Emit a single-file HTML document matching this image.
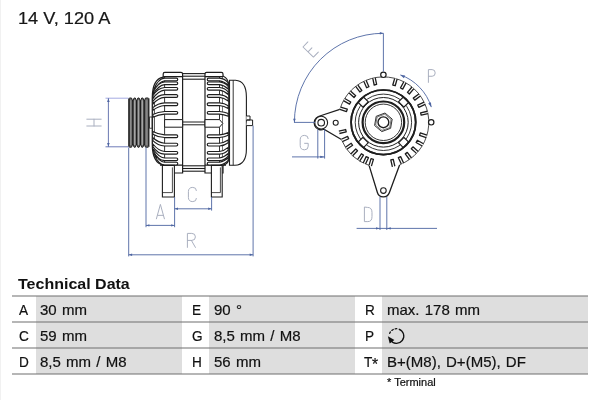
<!DOCTYPE html>
<html><head><meta charset="utf-8"><title>Technical Data</title>
<style>
html,body{margin:0;padding:0;background:#fff;}
body{width:600px;height:400px;position:relative;overflow:hidden;font-family:"Liberation Sans",sans-serif;color:#111;}
.edge{position:absolute;left:0;top:0;width:1px;height:400px;background:#f1f1f1;}
.hd{position:absolute;left:18.2px;top:9.2px;font-size:15.6px;line-height:20px;white-space:nowrap;color:#161616;transform:scaleX(1.165);transform-origin:0 0;-webkit-text-stroke:0.2px #161616;}
.tt{position:absolute;left:18.4px;top:275px;font-size:14.2px;line-height:18px;font-weight:bold;white-space:nowrap;color:#111;transform:scaleX(1.128);transform-origin:0 0;}
#wrap{position:absolute;left:0;top:0;width:600px;height:400px;will-change:transform;}
.g{position:absolute;background:#dedede;}
.ln{position:absolute;left:12px;width:576px;height:2px;background:rgba(110,110,110,0.5);}
.t{position:absolute;font-size:14.3px;line-height:26px;height:26px;white-space:nowrap;color:#111;transform:scaleX(1.05);transform-origin:0 0;margin-top:0.6px;word-spacing:1px;-webkit-text-stroke:0.2px #111;}
.t.lb{transform:scaleX(0.95);font-size:14.3px;}
.fn{position:absolute;left:386.6px;top:377.1px;font-size:10.2px;line-height:12px;white-space:nowrap;color:#111;transform:scaleX(1.08);transform-origin:0 0;-webkit-text-stroke:0.2px #111;}
</style></head><body>
<div class="edge"></div>
<div id="wrap">
<div class="hd">14 V, 120 A</div>
<svg width="600" height="270" viewBox="0 0 600 270" style="position:absolute;left:0;top:0">
<polygon points="128.8,98.6 129.4,98.0 131.5,98.0 132.8,101.2 134.1,98.0 135.3,98.0 136.6,101.2 137.9,98.0 139.1,98.0 140.4,101.2 141.7,98.0 142.9,98.0 144.2,101.2 145.5,98.0 148.3,98.0 148.9,98.6 148.9,146.6 148.3,147.2 145.5,147.2 144.2,144.0 142.9,147.2 141.7,147.2 140.4,144.0 139.1,147.2 137.9,147.2 136.6,144.0 135.3,147.2 134.1,147.2 132.8,144.0 131.5,147.2 129.4,147.2 128.8,146.6" fill="#6c6c6c" stroke="#222" stroke-width="1.0" stroke-linejoin="round"/>
<rect x="129.60" y="100.2" width="1.6" height="44.8" fill="#8c8c8c"/>
<rect x="134.00" y="100.2" width="1.4" height="44.8" fill="#a4a4a4"/>
<rect x="137.80" y="100.2" width="1.4" height="44.8" fill="#a4a4a4"/>
<rect x="141.60" y="100.2" width="1.4" height="44.8" fill="#a4a4a4"/>
<rect x="146.00" y="100.2" width="1.8" height="44.8" fill="#868686"/>
<rect x="132.15" y="100.6" width="1.3" height="44.0" fill="#1c1c1c"/>
<rect x="135.95" y="100.6" width="1.3" height="44.0" fill="#1c1c1c"/>
<rect x="139.75" y="100.6" width="1.3" height="44.0" fill="#1c1c1c"/>
<rect x="143.55" y="100.6" width="1.3" height="44.0" fill="#1c1c1c"/>
<rect x="128.60" y="99.0" width="1.2" height="47.2" fill="#2a2a2a"/>
<rect x="147.90" y="99.0" width="1.2" height="47.2" fill="#2a2a2a"/>
<rect x="149.6" y="117" width="2.6" height="11.2" fill="#fff" stroke="#1e1e1e" stroke-width="0.8"/>
<path d="M163.2 78 L163.2 74 Q163.2 72.4 164.8 72.4 L181 72.4 Q182.6 72.4 182.6 74 L182.6 173 L163.2 173 L163.2 162" fill="#fff" stroke="#1e1e1e" stroke-width="1.2" />
<path d="M163.2 77.2 C156 78.5 152.3 86 152.3 98 L152.3 144 C152.3 156 156 163.6 163.2 165" fill="#fff" stroke="#1e1e1e" stroke-width="1.3" />
<path d="M154.4 101 L154.4 139" fill="none" stroke="#1e1e1e" stroke-width="0.8" />
<path d="M164.6 77 L164.6 165" fill="none" stroke="#1e1e1e" stroke-width="0.9" />
<path d="M163.2 76.6 L182.6 76.6 M160 165.2 L182.6 165.2" fill="none" stroke="#1e1e1e" stroke-width="1.3" />
<path d="M205 74 Q205 72.4 206.6 72.4 L221.4 72.4 Q223 72.4 223 74 L223 173 L205 173 Z" fill="#fff" stroke="#1e1e1e" stroke-width="1.2" />
<path d="M223 76 C226.5 77.5 228.8 81 228.8 86 L228.8 158 C228.8 162 227 164.4 223 165.2" fill="#fff" stroke="#1e1e1e" stroke-width="1.2" />
<path d="M219.5 77 L219.5 165" fill="none" stroke="#1e1e1e" stroke-width="0.9" />
<path d="M205 76.6 L223 76.6 M205 165.2 L226 165.2" fill="none" stroke="#1e1e1e" stroke-width="1.3" />
<path d="M182.6 73.6 L205 73.6" fill="none" stroke="#1e1e1e" stroke-width="1.1" />
<path d="M182.6 76.2 L205 76.2" fill="none" stroke="#1e1e1e" stroke-width="1.1" />
<path d="M182.6 79.2 L205 79.2" fill="none" stroke="#1e1e1e" stroke-width="1.1" />
<path d="M182.6 165.8 L205 165.8" fill="none" stroke="#1e1e1e" stroke-width="1.1" />
<path d="M182.6 168.5 L205 168.5" fill="none" stroke="#1e1e1e" stroke-width="1.1" />
<path d="M182.6 171.2 L205 171.2" fill="none" stroke="#1e1e1e" stroke-width="1.1" />
<path d="M229.5 80.2 L235.5 80.2 C243 80.6 246.4 87 246.4 97 L246.4 149 C246.4 159 243 165 235 165.3 L229.5 165.3 Z" fill="#fff" stroke="#1e1e1e" stroke-width="1.1" />
<path d="M233.2 80.2 L233.2 165.3" fill="none" stroke="#1e1e1e" stroke-width="0.9" />
<path d="M246.4 116 L250 116 L250 120 L246.4 120 M247 120 L252.6 120 L252.6 125.6 L246.4 125.6" fill="#fff" stroke="#1e1e1e" stroke-width="1.0" />
<path d="M164.6 119.6 L182.6 119.6 L182.6 127.2 L164.6 127.2 Z" fill="#fff" stroke="#1e1e1e" stroke-width="1.0" />
<path d="M182.6 122 L205 122 M182.6 124.8 L205 124.8" fill="none" stroke="#1e1e1e" stroke-width="1.0" />
<path d="M205 119.6 L219.5 119.6 L222.8 123.4 L219.5 127.2 L205 127.2 Z" fill="#fff" stroke="#1e1e1e" stroke-width="1.0" />
<path d="M176.4 78.15 L164.6 78.15 Q158.30 78.50 153.99 89.00 L153.40 91.80 Q158.80 81.30 164.6 80.85 L176.4 80.85 A1.35 1.35 0 0 0 176.4 78.15 Z" fill="#fff" stroke="#1e1e1e" stroke-width="1.15" />
<path d="M208.6 78.15 L219.5 78.15 Q224.54 78.50 227.98 82.70 L228.20 85.40 Q224.05 81.30 219.5 80.85 L208.6 80.85 A1.35 1.35 0 0 1 208.6 78.15 Z" fill="#fff" stroke="#1e1e1e" stroke-width="1.15" />
<path d="M176.4 81.95 L164.6 81.95 Q158.00 82.30 153.40 91.80 L153.05 94.60 Q158.62 85.10 164.6 84.65 L176.4 84.65 A1.35 1.35 0 0 0 176.4 81.95 Z" fill="#fff" stroke="#1e1e1e" stroke-width="1.15" />
<path d="M208.6 81.95 L219.5 81.95 Q224.65 82.30 228.20 86.50 L228.20 89.20 Q224.05 85.10 219.5 84.65 L208.6 84.65 A1.35 1.35 0 0 1 208.6 81.95 Z" fill="#fff" stroke="#1e1e1e" stroke-width="1.15" />
<path d="M176.4 87.45 L164.6 87.45 Q157.78 87.80 152.96 95.80 L152.90 98.60 Q158.55 90.60 164.6 90.15 L176.4 90.15 A1.35 1.35 0 0 0 176.4 87.45 Z" fill="#fff" stroke="#1e1e1e" stroke-width="1.15" />
<path d="M208.6 87.45 L219.5 87.45 Q224.65 87.80 228.20 91.95 L228.20 94.65 Q224.05 90.60 219.5 90.15 L208.6 90.15 A1.35 1.35 0 0 1 208.6 87.45 Z" fill="#fff" stroke="#1e1e1e" stroke-width="1.15" />
<path d="M176.4 94.65 L164.6 94.65 Q157.75 95.00 152.90 101.20 L152.90 104.00 Q158.55 97.80 164.6 97.35 L176.4 97.35 A1.35 1.35 0 0 0 176.4 94.65 Z" fill="#fff" stroke="#1e1e1e" stroke-width="1.15" />
<path d="M208.6 94.65 L219.5 94.65 Q224.65 95.00 228.20 98.34 L228.20 101.04 Q224.05 97.80 219.5 97.35 L208.6 97.35 A1.35 1.35 0 0 1 208.6 94.65 Z" fill="#fff" stroke="#1e1e1e" stroke-width="1.15" />
<path d="M176.4 102.85 L164.6 102.85 Q157.75 103.20 152.90 107.60 L152.90 110.40 Q158.55 106.00 164.6 105.55 L176.4 105.55 A1.35 1.35 0 0 0 176.4 102.85 Z" fill="#fff" stroke="#1e1e1e" stroke-width="1.15" />
<path d="M208.6 102.85 L219.5 102.85 Q224.65 103.20 228.20 105.73 L228.20 108.43 Q224.05 106.00 219.5 105.55 L208.6 105.55 A1.35 1.35 0 0 1 208.6 102.85 Z" fill="#fff" stroke="#1e1e1e" stroke-width="1.15" />
<path d="M176.4 111.45 L164.6 111.45 Q157.75 111.80 152.90 114.40 L152.90 117.20 Q158.55 114.60 164.6 114.15 L176.4 114.15 A1.35 1.35 0 0 0 176.4 111.45 Z" fill="#fff" stroke="#1e1e1e" stroke-width="1.15" />
<path d="M208.6 111.45 L219.5 111.45 Q224.65 111.80 228.20 113.52 L228.20 116.22 Q224.05 114.60 219.5 114.15 L208.6 114.15 A1.35 1.35 0 0 1 208.6 111.45 Z" fill="#fff" stroke="#1e1e1e" stroke-width="1.15" />
<path d="M176.4 164.95 L164.6 164.95 Q158.60 164.60 154.61 155.10 L153.82 152.30 Q159.01 161.80 164.6 162.25 L176.4 162.25 A1.35 1.35 0 0 1 176.4 164.95 Z" fill="#fff" stroke="#1e1e1e" stroke-width="1.15" />
<path d="M208.6 164.95 L219.5 164.95 Q224.64 164.60 228.19 160.40 L228.20 157.70 Q224.05 161.80 219.5 162.25 L208.6 162.25 A1.35 1.35 0 0 0 208.6 164.95 Z" fill="#fff" stroke="#1e1e1e" stroke-width="1.15" />
<path d="M176.4 160.65 L164.6 160.65 Q158.15 160.30 153.71 151.80 L153.22 149.00 Q158.71 157.50 164.6 157.95 L176.4 157.95 A1.35 1.35 0 0 1 176.4 160.65 Z" fill="#fff" stroke="#1e1e1e" stroke-width="1.15" />
<path d="M208.6 160.65 L219.5 160.65 Q224.65 160.30 228.20 156.10 L228.20 153.40 Q224.05 157.50 219.5 157.95 L208.6 157.95 A1.35 1.35 0 0 0 208.6 160.65 Z" fill="#fff" stroke="#1e1e1e" stroke-width="1.15" />
<path d="M176.4 154.15 L164.6 154.15 Q157.80 153.80 153.00 146.80 L152.90 144.00 Q158.55 151.00 164.6 151.45 L176.4 151.45 A1.35 1.35 0 0 1 176.4 154.15 Z" fill="#fff" stroke="#1e1e1e" stroke-width="1.15" />
<path d="M208.6 154.15 L219.5 154.15 Q224.65 153.80 228.20 150.10 L228.20 147.40 Q224.05 151.00 219.5 151.45 L208.6 151.45 A1.35 1.35 0 0 0 208.6 154.15 Z" fill="#fff" stroke="#1e1e1e" stroke-width="1.15" />
<path d="M176.4 145.95 L164.6 145.95 Q157.75 145.60 152.90 140.60 L152.90 137.80 Q158.55 142.80 164.6 143.25 L176.4 143.25 A1.35 1.35 0 0 1 176.4 145.95 Z" fill="#fff" stroke="#1e1e1e" stroke-width="1.15" />
<path d="M208.6 145.95 L219.5 145.95 Q224.65 145.60 228.20 142.80 L228.20 140.10 Q224.05 142.80 219.5 143.25 L208.6 143.25 A1.35 1.35 0 0 0 208.6 145.95 Z" fill="#fff" stroke="#1e1e1e" stroke-width="1.15" />
<path d="M176.4 137.55 L164.6 137.55 Q157.75 137.20 152.90 134.20 L152.90 131.40 Q158.55 134.40 164.6 134.85 L176.4 134.85 A1.35 1.35 0 0 1 176.4 137.55 Z" fill="#fff" stroke="#1e1e1e" stroke-width="1.15" />
<path d="M208.6 137.55 L219.5 137.55 Q224.65 137.20 228.20 135.30 L228.20 132.60 Q224.05 134.40 219.5 134.85 L208.6 134.85 A1.35 1.35 0 0 0 208.6 137.55 Z" fill="#fff" stroke="#1e1e1e" stroke-width="1.15" />
<path d="M162.4 165.4 L162.4 197 L174.4 197 L174.4 165.4 Z" fill="#fff" stroke="#1e1e1e" stroke-width="1.1" />
<path d="M162.4 192.6 L172.4 192.6 L172.4 167.4" fill="none" stroke="#1e1e1e" stroke-width="0.8" />
<path d="M211.4 165.4 L211.4 197 L222.2 197 L222.2 165.4 Z" fill="#fff" stroke="#1e1e1e" stroke-width="1.1" />
<path d="M211.4 192.6 L220.4 192.6 L220.4 167.4" fill="none" stroke="#1e1e1e" stroke-width="0.8" />
<path d="M105.5 98.2 L128.5 98.2" fill="none" stroke="#9aa0e0" stroke-width="0.9"/>
<path d="M105.5 146.8 L128.5 146.8" fill="none" stroke="#5f6cb0" stroke-width="0.9"/>
<path d="M108.4 98.2 L108.4 146.8" fill="none" stroke="#5a6aa8" stroke-width="0.9"/>
<polygon points="108.40,98.40 109.70,102.00 107.10,102.00" fill="#4d65a2"/>
<polygon points="108.40,146.60 107.10,143.00 109.70,143.00" fill="#4d65a2"/>
<path d="M128.7 147.5 L128.7 256.4" fill="none" stroke="#4d65a2" stroke-width="0.9"/>
<path d="M146 147.5 L146 227.2" fill="none" stroke="#4d65a2" stroke-width="0.9"/>
<path d="M174.6 197 L174.6 227.2" fill="none" stroke="#4d65a2" stroke-width="0.9"/>
<path d="M211.6 197 L211.6 210.6" fill="none" stroke="#4d65a2" stroke-width="0.9"/>
<path d="M253.1 125.6 L253.1 256.4" fill="none" stroke="#4d65a2" stroke-width="0.9"/>
<path d="M146 225.4 L174.6 225.4" fill="none" stroke="#4d65a2" stroke-width="0.9"/>
<polygon points="146.20,225.40 149.40,224.20 149.40,226.60" fill="#4d65a2"/>
<polygon points="174.40,225.40 171.20,226.60 171.20,224.20" fill="#4d65a2"/>
<path d="M174.6 208.8 L211.6 208.8" fill="none" stroke="#4d65a2" stroke-width="0.9"/>
<polygon points="174.80,208.80 178.00,207.60 178.00,210.00" fill="#4d65a2"/>
<polygon points="211.40,208.80 208.20,210.00 208.20,207.60" fill="#4d65a2"/>
<path d="M128.7 254.8 L253.1 254.8" fill="none" stroke="#4d65a2" stroke-width="0.9"/>
<polygon points="128.90,254.80 132.10,253.60 132.10,256.00" fill="#4d65a2"/>
<polygon points="252.90,254.80 249.70,256.00 249.70,253.60" fill="#4d65a2"/>
<path d="M339.87 109.41 L318.3 116.5 A6.6 6.6 0 0 0 323.9 129.2 L341.43 139.60" fill="#fff" stroke="#1e1e1e" stroke-width="1.2" />
<path d="M369.07 165.38 L377.38 192.45 A6.3 6.3 0 0 0 389.31 192.78 L399.67 164.68" fill="#fff" stroke="#1e1e1e" stroke-width="1.3" />
<circle cx="383.4" cy="122.3" r="45.4" fill="#fff"/>
<path d="M339.87 109.41 A45.40 45.40 0 1 1 399.67 164.68" fill="none" stroke="#1e1e1e" stroke-width="0.8" />
<path d="M369.07 165.38 A45.40 45.40 0 0 1 341.43 139.60" fill="none" stroke="#1e1e1e" stroke-width="0.8" />
<circle cx="321.2" cy="122.7" r="6.4" fill="#fff" stroke="#1e1e1e" stroke-width="1.1"/>
<circle cx="321.2" cy="122.7" r="3.3" fill="#fff" stroke="#1e1e1e" stroke-width="1.1"/>
<circle cx="335.7" cy="122.7" r="2.5" fill="#fff" stroke="#1e1e1e" stroke-width="1.1"/>
<circle cx="383.4" cy="190.6" r="2.8" fill="#fff" stroke="#1e1e1e" stroke-width="1.1"/>
<circle cx="383.4" cy="74.8" r="2.7" fill="#fff" stroke="#1e1e1e" stroke-width="1.2"/>
<circle cx="431.2" cy="122.3" r="2.7" fill="#fff" stroke="#1e1e1e" stroke-width="1.2"/>
<path d="M375.18 77.63 L376.64 84.48 L374.19 85.00 L372.74 78.15" fill="#fff" stroke="#1e1e1e" stroke-width="1.3" stroke-linejoin="round"/>
<path d="M366.08 80.32 L368.92 86.71 L366.64 87.73 L363.79 81.33" fill="#fff" stroke="#1e1e1e" stroke-width="1.3" stroke-linejoin="round"/>
<path d="M357.73 84.84 L361.84 90.50 L359.82 91.97 L355.70 86.31" fill="#fff" stroke="#1e1e1e" stroke-width="1.3" stroke-linejoin="round"/>
<path d="M350.50 90.99 L355.70 95.68 L354.03 97.53 L348.82 92.85" fill="#fff" stroke="#1e1e1e" stroke-width="1.3" stroke-linejoin="round"/>
<path d="M344.71 98.52 L350.77 102.02 L349.52 104.18 L343.46 100.68" fill="#fff" stroke="#1e1e1e" stroke-width="1.3" stroke-linejoin="round"/>
<path d="M340.61 107.08 L347.27 109.24 L346.49 111.62 L339.84 109.46" fill="#fff" stroke="#1e1e1e" stroke-width="1.3" stroke-linejoin="round"/>
<path d="M397.12 79.00 L395.19 85.73 L392.78 85.04 L394.71 78.31" fill="#fff" stroke="#1e1e1e" stroke-width="1.3" stroke-linejoin="round"/>
<path d="M406.02 82.92 L402.71 89.08 L400.50 87.90 L403.82 81.73" fill="#fff" stroke="#1e1e1e" stroke-width="1.3" stroke-linejoin="round"/>
<path d="M413.89 88.64 L409.34 93.96 L407.44 92.33 L412.00 87.02" fill="#fff" stroke="#1e1e1e" stroke-width="1.3" stroke-linejoin="round"/>
<path d="M420.36 95.91 L414.78 100.13 L413.27 98.14 L418.86 93.92" fill="#fff" stroke="#1e1e1e" stroke-width="1.3" stroke-linejoin="round"/>
<path d="M425.14 104.39 L418.78 107.33 L417.73 105.06 L424.09 102.12" fill="#fff" stroke="#1e1e1e" stroke-width="1.3" stroke-linejoin="round"/>
<path d="M427.99 113.69 L421.16 115.21 L420.62 112.77 L427.45 111.25" fill="#fff" stroke="#1e1e1e" stroke-width="1.3" stroke-linejoin="round"/>
<path d="M426.19 137.52 L419.53 135.36 L420.31 132.98 L426.96 135.14" fill="#fff" stroke="#1e1e1e" stroke-width="1.3" stroke-linejoin="round"/>
<path d="M422.18 145.95 L416.10 142.47 L417.34 140.30 L423.42 143.78" fill="#fff" stroke="#1e1e1e" stroke-width="1.3" stroke-linejoin="round"/>
<path d="M416.52 153.38 L411.29 148.73 L412.95 146.86 L418.18 151.51" fill="#fff" stroke="#1e1e1e" stroke-width="1.3" stroke-linejoin="round"/>
<path d="M409.47 159.49 L405.29 153.87 L407.30 152.38 L411.47 158.00" fill="#fff" stroke="#1e1e1e" stroke-width="1.3" stroke-linejoin="round"/>
<path d="M401.31 164.04 L398.37 157.68 L400.64 156.63 L403.58 162.99" fill="#fff" stroke="#1e1e1e" stroke-width="1.3" stroke-linejoin="round"/>
<path d="M392.39 166.82 L390.82 160.00 L393.26 159.43 L394.83 166.26" fill="#fff" stroke="#1e1e1e" stroke-width="1.3" stroke-linejoin="round"/>
<path d="M338.84 131.06 L345.66 129.52 L346.21 131.96 L339.39 133.50" fill="#fff" stroke="#1e1e1e" stroke-width="1.3" stroke-linejoin="round"/>
<path d="M341.27 139.26 L347.69 136.47 L348.68 138.76 L342.26 141.55" fill="#fff" stroke="#1e1e1e" stroke-width="1.3" stroke-linejoin="round"/>
<path d="M345.45 147.25 L351.19 143.25 L352.62 145.30 L346.88 149.30" fill="#fff" stroke="#1e1e1e" stroke-width="1.3" stroke-linejoin="round"/>
<path d="M350.85 153.98 L355.73 148.96 L357.52 150.70 L352.64 155.72" fill="#fff" stroke="#1e1e1e" stroke-width="1.3" stroke-linejoin="round"/>
<path d="M357.56 159.65 L361.38 153.79 L363.48 155.15 L359.65 161.02" fill="#fff" stroke="#1e1e1e" stroke-width="1.3" stroke-linejoin="round"/>
<path d="M363.22 162.99 L366.16 156.63 L368.43 157.68 L365.49 164.04" fill="#fff" stroke="#1e1e1e" stroke-width="1.3" stroke-linejoin="round"/>
<path d="M369.01 165.38 L371.04 158.68 L373.43 159.41 L371.40 166.10" fill="#fff" stroke="#1e1e1e" stroke-width="1.3" stroke-linejoin="round"/>
<circle cx="383.4" cy="122.3" r="32.3" fill="none" stroke="#1e1e1e" stroke-width="1.7"/>
<circle cx="383.4" cy="122.3" r="28.2" fill="none" stroke="#1e1e1e" stroke-width="0.9"/>
<circle cx="383.4" cy="122.3" r="24.8" fill="none" stroke="#1e1e1e" stroke-width="1.0"/>
<circle cx="383.4" cy="122.3" r="20.8" fill="none" stroke="#1e1e1e" stroke-width="2.2"/>
<circle cx="383.4" cy="122.3" r="18.2" fill="none" stroke="#1e1e1e" stroke-width="0.9"/>
<rect x="408.6" y="118.5" width="6.6" height="7.6" fill="#fff" stroke="#1e1e1e" stroke-width="1.15" transform="rotate(45 383.4 122.3)"/>
<rect x="408.6" y="118.5" width="6.6" height="7.6" fill="#fff" stroke="#1e1e1e" stroke-width="1.15" transform="rotate(135 383.4 122.3)"/>
<rect x="408.6" y="118.5" width="6.6" height="7.6" fill="#fff" stroke="#1e1e1e" stroke-width="1.15" transform="rotate(225 383.4 122.3)"/>
<rect x="408.6" y="118.5" width="6.6" height="7.6" fill="#fff" stroke="#1e1e1e" stroke-width="1.15" transform="rotate(315 383.4 122.3)"/>
<circle cx="383.4" cy="122.3" r="32.3" fill="none" stroke="#1e1e1e" stroke-width="1.7"/>
<polygon points="385.0,113.0 392.2,119.1 390.6,128.3 381.8,131.6 374.6,125.5 376.2,116.3" fill="#fff" stroke="#1e1e1e" stroke-width="0.9"/>
<polygon points="384.8,114.2 391.1,119.5 389.7,127.6 382.0,130.4 375.7,125.1 377.1,117.0" fill="none" stroke="#1e1e1e" stroke-width="0.6"/>
<circle cx="383.4" cy="122.3" r="5.4" fill="#fff" stroke="#1e1e1e" stroke-width="1.4"/>
<path d="M383.4 71.6 L383.4 33.3" fill="none" stroke="#4d65a2" stroke-width="0.9"/>
<path d="M315 122.4 L294 122.4" fill="none" stroke="#4d65a2" stroke-width="0.9"/>
<path d="M383.4 33.3 A89 89 0 0 0 294.4 122.3" fill="none" stroke="#4d65a2" stroke-width="0.9"/>
<polygon points="383.40,33.30 379.80,34.60 379.80,32.00" fill="#4d65a2"/>
<polygon points="294.40,122.30 293.10,118.70 295.70,118.70" fill="#4d65a2"/>
<path d="M400.4 74.9 A50 50 0 0 1 431.3 107.1" fill="none" stroke="#4d65a2" stroke-width="0.9"/>
<polygon points="400.36,74.94 405.16,75.50 403.91,78.23" fill="#4d65a2"/>
<polygon points="431.35,107.09 428.19,103.42 430.96,102.27" fill="#4d65a2"/>
<path d="M317.8 129.4 L317.8 158.6" fill="none" stroke="#4d65a2" stroke-width="0.9"/>
<path d="M324.6 129.4 L324.6 158.6" fill="none" stroke="#4d65a2" stroke-width="0.9"/>
<path d="M292 156.9 L324.6 156.9" fill="none" stroke="#4d65a2" stroke-width="0.9"/>
<polygon points="324.40,156.90 320.20,158.10 320.20,155.70" fill="#4d65a2"/>
<path d="M380 196.8 L380 230" fill="none" stroke="#4d65a2" stroke-width="0.9"/>
<path d="M386.8 196.8 L386.8 230" fill="none" stroke="#4d65a2" stroke-width="0.9"/>
<path d="M356.6 228.4 L437 228.4" fill="none" stroke="#4d65a2" stroke-width="0.9"/>
<polygon points="379.80,228.40 376.00,229.60 376.00,227.20" fill="#4d65a2"/>
<polygon points="387.00,228.40 390.80,227.20 390.80,229.60" fill="#4d65a2"/>
<path d="M0 14.4 L4 0 L8 14.4 M1.28 10.944 L6.72 10.944" fill="none" stroke="#a9afbf" stroke-width="1.0" stroke-linecap="round" stroke-linejoin="round" transform="translate(156.4 204.4)"/>
<path d="M8 3.124 Q8 0 4.4 0 Q0 0 0 4.26 L0 9.94 Q0 14.2 4.4 14.2 Q8 14.2 8 11.076" fill="none" stroke="#a9afbf" stroke-width="1.0" stroke-linecap="round" stroke-linejoin="round" transform="translate(188.4 187.4)"/>
<path d="M0 14 L0 0 L4.4 0 Q8 0 8 3.5 Q8 7 4.4 7 L0 7 M4 7 L8 14" fill="none" stroke="#a9afbf" stroke-width="1.0" stroke-linecap="round" stroke-linejoin="round" transform="translate(187.4 233.4)"/>
<path d="M0 12.8 L0 0 L3.74 0 Q6.8 0 6.8 3.328 Q6.8 6.656 3.74 6.656 L0 6.656" fill="none" stroke="#a9afbf" stroke-width="1.0" stroke-linecap="round" stroke-linejoin="round" transform="translate(428.4 69.6)"/>
<path d="M8 3.168 Q8 0 4.4 0 Q0 0 0 4.32 L0 10.08 Q0 14.4 4.4 14.4 Q8 14.4 8 10.8 L8 7.92 L4.4 7.92" fill="none" stroke="#a9afbf" stroke-width="1.0" stroke-linecap="round" stroke-linejoin="round" transform="translate(300.2 135.4)"/>
<path d="M0 0 L0 14.2 L3.42 14.2 Q7.6 14.2 7.6 9.23 L7.6 4.97 Q7.6 0 3.42 0 Z" fill="none" stroke="#a9afbf" stroke-width="1.0" stroke-linecap="round" stroke-linejoin="round" transform="translate(364.4 207.4)"/>
<path d="M0 0 L0 14.4 M6.8 0 L6.8 14.4 M0 7.2 L6.8 7.2" fill="none" stroke="#a9afbf" stroke-width="1.0" stroke-linecap="round" stroke-linejoin="round" transform="translate(86.8 126) rotate(-90)"/>
<path d="M7 0 L0 0 L0 14.5 L7 14.5 M0 6.96 L5.6 6.96" fill="none" stroke="#a9afbf" stroke-width="1.0" stroke-linecap="round" stroke-linejoin="round" transform="translate(303 47) rotate(-46)"/>
</svg>
<div class="tt">Technical Data</div>
<div class="g" style="left:36px;top:296px;width:146px;height:78px"></div>
<div class="g" style="left:208.8px;top:296px;width:146px;height:78px"></div>
<div class="g" style="left:381.8px;top:296px;width:206.2px;height:78px"></div>
<div class="ln" style="top:294.8px"></div>
<div class="ln" style="top:320.8px"></div>
<div class="ln" style="top:346.8px"></div>
<div class="ln" style="top:372.8px"></div>
<div class="t lb" style="left:18.6px;top:296px">A</div>
<div class="t" style="left:40.0px;top:296px">30 mm</div>
<div class="t lb" style="left:192.0px;top:296px">E</div>
<div class="t" style="left:213.8px;top:296px">90 °</div>
<div class="t lb" style="left:364.8px;top:296px">R</div>
<div class="t" style="left:386.6px;top:296px">max. 178 mm</div>
<div class="t lb" style="left:18.6px;top:322px">C</div>
<div class="t" style="left:40.0px;top:322px">59 mm</div>
<div class="t lb" style="left:192.0px;top:322px">G</div>
<div class="t" style="left:213.8px;top:322px">8,5 mm / M8</div>
<div class="t lb" style="left:364.8px;top:322px">P</div>
<svg style="position:absolute;left:386px;top:322px;margin-top:0.8px" width="24" height="26" viewBox="0 0 24 26"><path d="M12.76 6.06 A7.3 7.3 0 1 1 4.31 16.87" fill="none" stroke="#111" stroke-width="1.25"/><path d="M10.75 5.70 A7.3 7.3 0 0 0 3.36 11.48" fill="none" stroke="#111" stroke-width="1.3" stroke-dasharray="1.6 2.0" stroke-linecap="round"/><polygon points="1.9,13.2 8.4,17 3.7,20.4" fill="#111"/></svg>
<div class="t lb" style="left:18.6px;top:348px">D</div>
<div class="t" style="left:40.0px;top:348px">8,5 mm / M8</div>
<div class="t lb" style="left:192.0px;top:348px">H</div>
<div class="t" style="left:213.8px;top:348px">56 mm</div>
<div class="t lb" style="left:364.0px;top:348px">T</div>
<div class="t lb" style="left:372.4px;top:348px;font-size:16.5px;margin-top:3.4px">*</div>
<div class="t" style="left:386.6px;top:348px">B+(M8), D+(M5), DF</div>
<div class="fn">* Terminal</div>
</div>
</body></html>
